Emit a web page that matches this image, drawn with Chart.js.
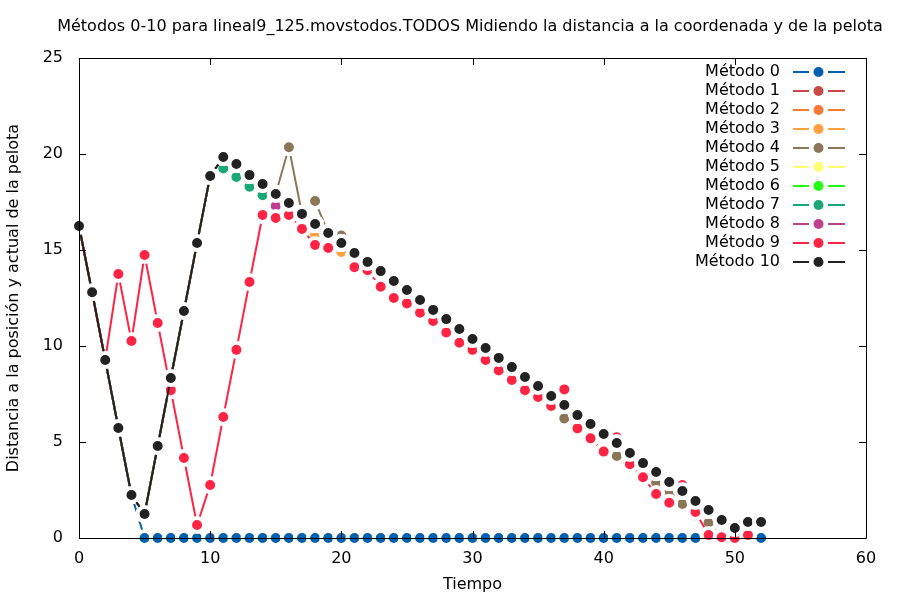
<!DOCTYPE html>
<html><head><meta charset="utf-8">
<script src="https://cdn.jsdelivr.net/npm/chart.js@4/dist/chart.umd.min.js"></script>
<style>html,body{margin:0;padding:0;background:#fff}canvas{display:block}</style>
</head><body><canvas id="c" width="900" height="600"></canvas>
<script>
const chartTitle = "Métodos 0-10 para lineal9_125.movstodos.TODOS Midiendo la distancia a la coordenada y de la pelota";
const xTitle = "Tiempo";
const yTitle = "Distancia a la posición y actual de la pelota";
const xTicks = [0, 10, 20, 30, 40, 50, 60];
const yTicks = [0, 5, 10, 15, 20, 25];
const tiempo = [0,1,2,3,4,5,6,7,8,9,10,11,12,13,14,15,16,17,18,19,20,21,22,23,24,25,26,27,28,29,30,31,32,33,34,35,36,37,38,39,40,41,42,43,44,45,46,47,48,49,50,51,52];
const metodoNames = ["Método 0","Método 1","Método 2","Método 3","Método 4","Método 5","Método 6","Método 7","Método 8","Método 9","Método 10"];
const metodoColors = ["#0060ad","#c94848","#f67a36","#ffa040","#8b7757","#ffff70","#22ff11","#1aa878","#c04090","#ff2444","#222222"];

const metodo0 = [16.25,12.8,9.27,5.73,2.24,0,0,0,0,0,0,0,0,0,0,0,0,0,0,0,0,0,0,0,0,0,0,0,0,0,0,0,0,0,0,0,0,0,0,0,0,0,0,0,0,0,0,0,0,0,0,0,0];
const metodo1 = [16.25,12.8,9.27,5.73,2.24,1.25,4.79,8.33,11.82,15.36,18.85,19.84,19.48,18.9,18.44,17.92,17.45,16.88,16.35,15.89,15.36,14.84,14.38,13.9,13.39,12.92,12.4,11.88,11.4,10.89,10.36,9.9,9.38,8.9,8.39,7.92,7.4,6.93,6.4,5.94,5.42,4.95,4.43,3.9,3.44,2.92,2.45,1.93,1.46,0.94,0.52,0.83,null];
const metodo2 = [16.25,12.8,9.27,5.73,2.24,1.25,4.79,8.33,11.82,15.36,18.85,19.84,19.48,18.9,18.44,17.92,17.45,16.88,16.35,15.89,15.36,14.84,14.38,13.9,13.39,12.92,12.4,11.88,11.4,10.89,10.36,9.9,9.38,8.9,8.39,7.92,7.4,6.93,6.4,5.94,5.42,4.95,4.43,3.9,3.44,2.92,2.45,1.93,1.46,0.94,0.52,0.83,null];
const metodo3 = [16.25,12.8,9.27,5.73,2.24,1.25,4.79,8.33,11.82,15.36,18.85,19.84,19.48,18.9,18.44,17.92,17.45,16.88,15.8,15.89,14.9,14.84,14.38,13.9,13.39,12.92,12.4,11.88,11.4,10.89,10.36,9.9,9.38,8.9,8.39,7.92,7.4,6.93,6.4,5.94,5.42,4.95,4.43,3.9,3.44,2.92,2.45,1.93,1.46,0.94,0.52,0.83,null];
const metodo4 = [16.25,12.8,9.27,5.73,2.24,1.25,4.79,8.33,11.82,15.36,18.85,19.84,19.48,18.9,18.44,17.92,20.35,16.88,17.55,15.89,15.75,14.84,14.38,13.9,13.39,12.92,12.4,11.88,11.4,10.89,10.36,9.9,9.38,8.9,8.39,7.92,7.4,6.23,5.71,5.19,4.5,4.27,3.84,3.16,2.88,2.4,1.77,1.15,0.8,0.04,0,0.16,null];
const metodo5 = [16.25,12.8,9.27,5.73,2.24,1.25,4.79,8.33,11.82,15.36,18.85,19.84,19.48,18.9,18.44,17.92,17.45,16.88,16.35,15.89,15.36,14.84,14.38,13.9,13.39,12.92,12.4,11.88,11.4,10.89,10.36,9.9,9.38,8.9,8.39,7.92,7.4,6.93,6.4,5.94,5.42,4.95,4.43,3.9,3.44,2.92,2.45,1.93,1.46,0.94,0.52,0.83,null];
const metodo6 = [16.25,12.8,9.27,5.73,2.24,1.25,4.79,8.33,11.82,15.36,18.85,19.84,19.48,18.9,18.44,17.92,17.45,16.88,16.35,15.89,15.36,14.84,14.38,13.9,13.39,12.92,12.4,11.88,11.4,10.89,10.36,9.9,9.38,8.9,8.39,7.92,7.4,6.93,6.4,5.94,5.42,4.95,4.43,3.9,3.44,2.92,2.45,1.93,1.46,0.94,0.52,0.83,null];
const metodo7 = [16.25,12.8,9.27,5.73,2.24,1.25,4.79,8.33,11.82,15.36,18.85,19.25,18.8,18.3,17.85,17.92,17.45,16.88,16.35,15.89,15.36,14.84,14.38,13.9,13.39,12.92,12.4,11.88,11.4,10.89,10.36,9.9,9.38,8.9,8.39,7.92,7.4,6.93,6.4,5.94,5.42,4.95,4.43,3.9,3.44,2.92,2.45,1.93,1.46,0.94,0.52,0.83,null];
const metodo8 = [16.25,12.8,9.27,5.73,2.24,1.25,4.79,8.33,11.82,15.36,18.85,19.84,19.48,18.9,18.44,17.29,17.45,16.88,16.35,15.89,15.36,14.84,14.38,13.9,13.39,12.92,12.4,11.88,11.4,10.89,10.36,9.9,9.38,8.9,8.39,7.92,7.4,6.93,6.4,5.94,5.42,4.95,4.43,3.9,3.44,2.92,2.45,1.93,1.46,0.94,0.52,0.83,null];
const metodo9 = [16.25,12.8,9.27,13.75,10.26,14.74,11.2,7.7,4.17,0.68,2.76,6.3,9.8,13.33,16.82,16.67,16.82,16.1,15.26,15.1,15.36,14.1,13.95,13.09,12.5,12.22,11.73,11.3,10.7,10.17,9.8,9.27,8.72,8.23,7.7,7.34,6.88,7.74,5.71,5.19,4.5,5.25,3.84,3.16,2.29,1.84,2.76,1.35,0.16,0.04,0,0.16,null];
const metodo10 = [16.25,12.8,9.27,5.73,2.24,1.25,4.79,8.33,11.82,15.36,18.85,19.84,19.48,18.9,18.44,17.92,17.45,16.88,16.35,15.89,15.36,14.84,14.38,13.9,13.39,12.92,12.4,11.88,11.4,10.89,10.36,9.9,9.38,8.9,8.39,7.92,7.4,6.93,6.4,5.94,5.42,4.95,4.43,3.9,3.44,2.92,2.45,1.93,1.46,0.94,0.52,0.83,0.83];

const series = [metodo0,metodo1,metodo2,metodo3,metodo4,metodo5,metodo6,metodo7,metodo8,metodo9,metodo10];

const FONT = '"DejaVu Sans", sans-serif';
const FS = 16;

const datasets = series.map((vals, i) => ({
  label: metodoNames[i],
  data: tiempo.map((t, k) => ({x: t, y: vals[k]})),
  borderColor: metodoColors[i],
  backgroundColor: metodoColors[i],
  pointBackgroundColor: metodoColors[i],
  pointBorderColor: '#ffffff',
  pointBorderWidth: 4,
  pointRadius: 7,
  pointHoverRadius: 7,
  borderWidth: 2,
  fill: false,
  tension: 0,
  spanGaps: false,
  clip: false,
  order: 10 - i
}));

const framePlugin = {
  id: 'frame',
  afterDatasetsDraw(chart) {
    const {ctx, chartArea: a, scales} = chart;
    ctx.save();
    ctx.strokeStyle = '#000';
    ctx.lineWidth = 1;
    ctx.beginPath();
    ctx.rect(Math.round(a.left) + 0.5, Math.round(a.top) + 0.5, Math.round(a.right - a.left), Math.round(a.bottom - a.top));
    ctx.stroke();
    const tl = 7;
    ctx.beginPath();
    xTicks.forEach(v => {
      const px = Math.round(scales.x.getPixelForValue(v)) + 0.5;
      ctx.moveTo(px, a.bottom); ctx.lineTo(px, a.bottom - tl);
      ctx.moveTo(px, a.top); ctx.lineTo(px, a.top + tl);
    });
    yTicks.forEach(v => {
      const py = Math.round(scales.y.getPixelForValue(v)) + 0.5;
      ctx.moveTo(a.left, py); ctx.lineTo(a.left + tl, py);
      ctx.moveTo(a.right, py); ctx.lineTo(a.right - tl, py);
    });
    ctx.stroke();
    ctx.restore();
  },
  afterDraw(chart) {
    const {ctx} = chart;
    ctx.save();
    ctx.fillStyle = '#000';
    ctx.font = FS + 'px ' + FONT;
    ctx.textAlign = 'center';
    ctx.textBaseline = 'middle';
    ctx.fillText(chartTitle, 470, 27);
    ctx.textAlign = 'right';
    chart.data.datasets.forEach((ds, i) => {
      const y = 72 + 19 * i;
      ctx.fillStyle = '#000';
      ctx.fillText(ds.label, 780, y);
      ctx.strokeStyle = ds.borderColor;
      ctx.lineWidth = 2;
      ctx.beginPath();
      ctx.moveTo(793, y); ctx.lineTo(809, y);
      ctx.moveTo(828, y); ctx.lineTo(845, y);
      ctx.stroke();
      ctx.fillStyle = ds.borderColor;
      ctx.beginPath();
      ctx.arc(818.5, y, 5, 0, Math.PI * 2);
      ctx.fill();
    });
    ctx.restore();
  }
};

new Chart(document.getElementById('c'), {
  type: 'line',
  data: {datasets},
  options: {
    responsive: false,
    devicePixelRatio: 1,
    animation: false,
    events: [],
    layout: {padding: {left: 0, right: 34, top: 58, bottom: 0}},
    plugins: {legend: {display: false}, title: {display: false}, tooltip: {enabled: false}},
    scales: {
      x: {
        type: 'linear', min: 0, max: 60,
        afterBuildTicks: s => { s.ticks = xTicks.map(v => ({value: v})); },
        afterFit: s => { s.height = 62; },
        grid: {display: false, drawTicks: false},
        border: {display: false},
        ticks: {color: '#000', font: {family: FONT, size: FS}, padding: 11, maxRotation: 0},
        title: {display: true, text: xTitle, color: '#000', font: {family: FONT, size: FS}, padding: {top: 0, bottom: 6}}
      },
      y: {
        type: 'linear', min: 0, max: 25,
        afterBuildTicks: s => { s.ticks = yTicks.map(v => ({value: v})); },
        afterFit: s => { s.width = 79; },
        grid: {display: false, drawTicks: false},
        border: {display: false},
        ticks: {color: '#000', font: {family: FONT, size: FS}, padding: 16},
        title: {display: true, text: yTitle, color: '#000', font: {family: FONT, size: FS}, padding: {top: 4, bottom: 0}}
      }
    }
  },
  plugins: [framePlugin]
});
</script>
</body></html>
